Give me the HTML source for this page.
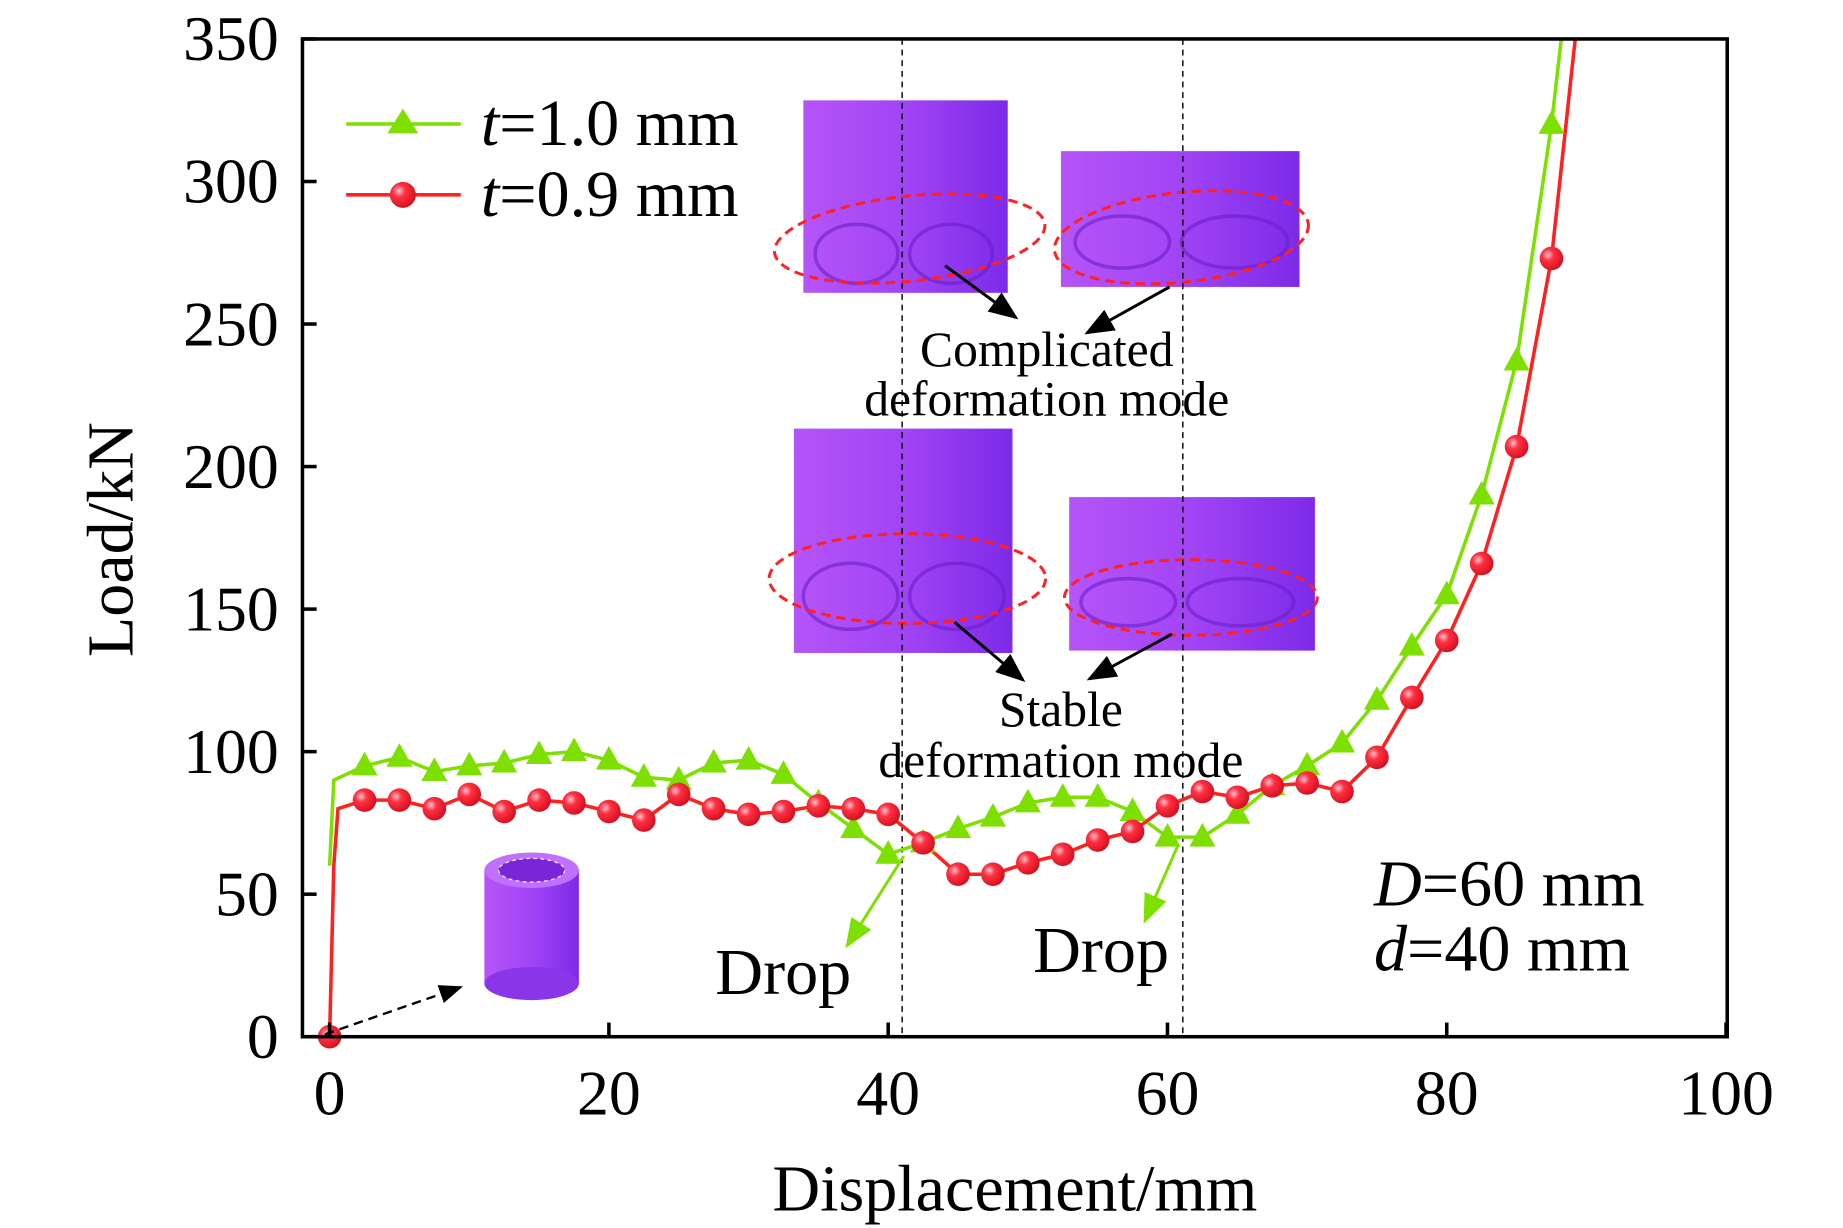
<!DOCTYPE html>
<html><head><meta charset="utf-8"><style>
html,body{margin:0;padding:0;background:#fff;}
svg{display:block;}
text{font-family:"Liberation Serif",serif;fill:#000;}
</style></head><body>
<svg id="chart" width="1843" height="1228" viewBox="0 0 1560 1040" preserveAspectRatio="none" xmlns="http://www.w3.org/2000/svg">
<defs>
<linearGradient id="pg" x1="0" x2="1" y1="0" y2="0"><stop offset="0" stop-color="#b554f7"/><stop offset="0.5" stop-color="#a144f5"/><stop offset="1" stop-color="#7d2ae8"/></linearGradient>
<radialGradient id="rb" cx="0.35" cy="0.35" r="0.7"><stop offset="0" stop-color="#ffc0d0"/><stop offset="0.35" stop-color="#ff3040"/><stop offset="1" stop-color="#d01020"/></radialGradient>
<marker id="ah" markerWidth="10" markerHeight="8" refX="9" refY="4" orient="auto"><path d="M0,0 L10,4 L0,8 z" fill="#000"/></marker>
<marker id="ahg" markerWidth="10" markerHeight="8" refX="9" refY="4" orient="auto"><path d="M0,0 L10,4 L0,8 z" fill="#7de000"/></marker>
</defs>
<g id="insets">
 <rect x="680" y="85" width="173" height="163" fill="url(#pg)"/>
 <rect x="898" y="128" width="202" height="115" fill="url(#pg)"/>
 <rect x="672" y="363" width="185" height="190" fill="url(#pg)"/>
 <rect x="905" y="421" width="208" height="130" fill="url(#pg)"/>
 <g fill="none" stroke="#6a1fc8" stroke-width="3" opacity="0.6">
  <ellipse cx="725" cy="215" rx="35" ry="25"/><ellipse cx="805" cy="215" rx="35" ry="25"/>
  <ellipse cx="950" cy="205" rx="40" ry="22"/><ellipse cx="1045" cy="205" rx="45" ry="22"/>
  <ellipse cx="720" cy="505" rx="40" ry="28"/><ellipse cx="810" cy="505" rx="40" ry="28"/>
  <ellipse cx="955" cy="510" rx="40" ry="20"/><ellipse cx="1050" cy="510" rx="45" ry="20"/>
 </g>
 <g fill="none" stroke="#ff2020" stroke-width="2.5" stroke-dasharray="8,5">
  <ellipse cx="770" cy="202" rx="115" ry="36" transform="rotate(-6 770 202)"/>
  <ellipse cx="1000" cy="201" rx="108" ry="38" transform="rotate(-6 1000 201)"/>
  <ellipse cx="768" cy="490" rx="117" ry="38"/>
  <ellipse cx="1008" cy="506" rx="107" ry="32"/>
 </g>
</g>
<g id="plot"></g>
<g>
 <line x1="800" y1="225" x2="860" y2="269" stroke="#000" stroke-width="2.5" marker-end="url(#ah)"/>
 <line x1="990" y1="243" x2="920" y2="282" stroke="#000" stroke-width="2.5" marker-end="url(#ah)"/>
 <line x1="808" y1="527" x2="866" y2="576" stroke="#000" stroke-width="2.5" marker-end="url(#ah)"/>
 <line x1="992" y1="537" x2="922" y2="575" stroke="#000" stroke-width="2.5" marker-end="url(#ah)"/>
 <text x="886" y="310" font-size="42" text-anchor="middle">Complicated</text>
 <text x="886" y="352" font-size="42" text-anchor="middle">deformation mode</text>
 <text x="898" y="615" font-size="42" text-anchor="middle">Stable</text>
 <text x="898" y="658" font-size="42" text-anchor="middle">deformation mode</text>
 <line x1="765" y1="725" x2="717" y2="801" stroke="#7de000" stroke-width="2.5" marker-end="url(#ahg)"/>
 <line x1="997" y1="716" x2="969" y2="780" stroke="#7de000" stroke-width="2.5" marker-end="url(#ahg)"/>
 <text x="663" y="842" font-size="56" text-anchor="middle">Drop</text>
 <text x="932" y="823" font-size="56" text-anchor="middle">Drop</text>
 <g>
  <rect x="410" y="737" width="80" height="96" fill="url(#pg)"/>
  <ellipse cx="450" cy="833" rx="40" ry="14" fill="#8a35ea"/>
  <ellipse cx="450" cy="737" rx="40" ry="15" fill="#c070ff"/>
  <ellipse cx="450" cy="737" rx="28" ry="10" fill="#7a25d8" stroke="#fff" stroke-dasharray="3,3"/>
 </g>
 <line x1="275" y1="876" x2="390" y2="836" stroke="#000" stroke-width="2" stroke-dasharray="8,5" marker-end="url(#ah)"/>
 <text x="1163" y="767" font-size="56"><tspan font-style="italic">D</tspan>=60 mm</text>
 <text x="1163" y="822" font-size="56"><tspan font-style="italic">d</tspan>=40 mm</text>
</g>
<g>
 <g>
  <line x1="293" y1="105" x2="390" y2="105" stroke="#7de000" stroke-width="3"/>
  <path d="M341,92 L354,113 L328,113 z" fill="#7de000"/>
  <text x="407" y="123" font-size="56"><tspan font-style="italic">t</tspan>=1.0 mm</text>
 </g>
 <g>
  <line x1="293" y1="165" x2="390" y2="165" stroke="#ff2020" stroke-width="3"/>
  <circle cx="341" cy="165" r="11" fill="url(#rb)"/>
  <text x="407" y="183" font-size="56"><tspan font-style="italic">t</tspan>=0.9 mm</text>
 </g>
</g>
</svg>
<script>
const xTicks=[0,20,40,60,80,100];
const yTicks=[0,50,100,150,200,250,300,350];
const markerX=[2.5,5,7.5,10,12.5,15,17.5,20,22.5,25,27.5,30,32.5,35,37.5,40,42.5,45,47.5,50,52.5,55,57.5,60,62.5,65,67.5,70,72.5,75,77.5,80,82.5,85,87.5];
const greenY=[95,98,93,95,96,99,100,97,91,90,96,97,92,82,73,64,68,73,77,82,84,84,79,70,70,78,88,95,103,118,137,155,190,237,320];
const redY=[83,83,80,85,79,83,82,79,76,85,80,78,79,81,80,78,68,57,57,61,64,69,72,81,86,84,88,89,86,98,119,139,166,207,273];
const greenStartX=[0,0.3];
const greenStartY=[60,90];
const greenEndX=[88.2];
const greenEndY=[350];
const redStartX=[0,0.3,0.6];
const redStartY=[0,60,80];
const redEndX=[89.2];
const redEndY=[350];
const dropLines=[41.0,61.1];

const NS="http://www.w3.org/2000/svg";
const L=256,R=1462,T=33,B=878,X0=279,XS=11.82;
const sx=v=>X0+v*XS;
const sy=v=>B-(v/350)*(B-T);
const g=document.getElementById('plot');
function mk(tag,attrs,parent){const e=document.createElementNS(NS,tag);for(const k in attrs)e.setAttribute(k,attrs[k]);(parent||g).appendChild(e);return e;}

dropLines.forEach(d=>{
 const l=mk('line',{x1:sx(d),x2:sx(d),y1:T,y2:B,stroke:'#000','stroke-width':1.2,'stroke-dasharray':'5,4'});
 
 
});

function series(sxA,syA,mx,my,exA,eyA,color,name){
 const xs=sxA.concat(mx,exA), ys=syA.concat(my,eyA);
 const p=mk('polyline',{points:xs.map((x,i)=>sx(x)+','+sy(ys[i])).join(' '),fill:'none',stroke:color,'stroke-width':3});
 
 
}
series(greenStartX,greenStartY,markerX,greenY,greenEndX,greenEndY,'#7de000','series-t10');
series(redStartX,redStartY,markerX,redY,redEndX,redEndY,'#ff2020','series-t09');
markerX.forEach((x,i)=>{
 const cx=sx(x),cy=sy(greenY[i]);
 const t=mk('path',{d:`M${cx},${cy-12} L${cx+11},${cy+8} L${cx-11},${cy+8} z`,fill:'#7de000'});
 
 
});
const r0=mk('circle',{cx:sx(redStartX[0]),cy:sy(redStartY[0]),r:10,fill:'url(#rb)'});


markerX.forEach((x,i)=>{
 const c=mk('circle',{cx:sx(x),cy:sy(redY[i]),r:10,fill:'url(#rb)'});
 
 
});

const fr=mk('rect',{x:L,y:T,width:R-L,height:B-T,fill:'none',stroke:'#000','stroke-width':3});


xTicks.forEach(v=>{
 mk('line',{x1:sx(v),x2:sx(v),y1:B,y2:B-12,stroke:'#000','stroke-width':3});
 const t=mk('text',{x:sx(v),y:B+66,'font-size':54,'text-anchor':'middle'});
 t.textContent=v;
 
 
});
yTicks.forEach(v=>{
 mk('line',{x1:L,x2:L+12,y1:sy(v),y2:sy(v),stroke:'#000','stroke-width':3});
 const t=mk('text',{x:L-20,y:sy(v)+18,'font-size':54,'text-anchor':'end'});
 t.textContent=v;
 
 
});
const xt=mk('text',{x:859,y:1025,'font-size':56,'text-anchor':'middle'});
xt.textContent='Displacement/mm';


const yt=mk('text',{x:0,y:0,'font-size':56,'text-anchor':'middle',transform:'translate(112,457) rotate(-90)'});
yt.textContent='Load/kN';


</script>
</body></html>
